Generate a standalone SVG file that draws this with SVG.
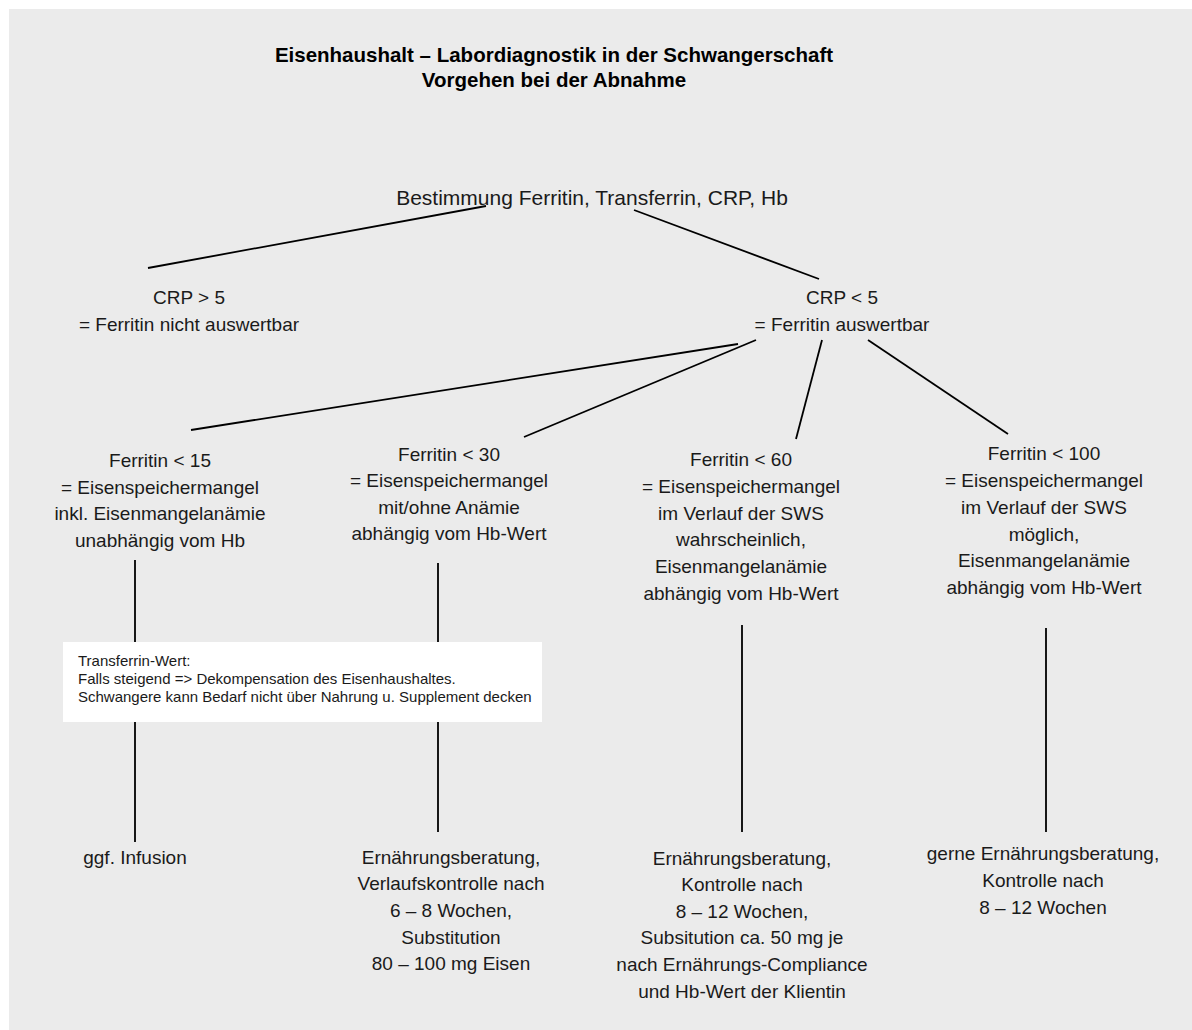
<svg xmlns="http://www.w3.org/2000/svg" width="1192" height="1030" viewBox="0 0 1192 1030">
  <style>
    .t { font-family: "Liberation Sans", Arial, sans-serif; font-size: 19px; fill: #1a1a1a; text-anchor: middle; }
    .title { font-family: "Liberation Sans", Arial, sans-serif; font-size: 20.5px; font-weight: bold; fill: #000; text-anchor: middle; }
    .note { font-family: "Liberation Sans", Arial, sans-serif; font-size: 15px; fill: #1a1a1a; }
    .c { stroke: #000; stroke-width: 1.8; fill: none; }
  </style>
  <rect x="9" y="9" width="1183" height="1021" fill="#ebebeb"/>

  <g id="title">
    <text class="title" x="554" y="62">Eisenhaushalt – Labordiagnostik in der Schwangerschaft</text>
    <text class="title" x="554" y="87">Vorgehen bei der Abnahme</text>
  </g>

  <g id="connectors">
    <line class="c" x1="486" y1="206" x2="148" y2="268"/>
    <line class="c" x1="634" y1="210" x2="819" y2="279"/>
    <line class="c" x1="738" y1="344" x2="191" y2="430"/>
    <line class="c" x1="756" y1="340" x2="524" y2="437"/>
    <line class="c" x1="822" y1="340" x2="796" y2="439"/>
    <line class="c" x1="868" y1="340" x2="1008" y2="434"/>
    <line class="c" x1="135" y1="560" x2="135" y2="842"/>
    <line class="c" x1="438" y1="563" x2="438" y2="832"/>
    <line class="c" x1="742" y1="625" x2="742" y2="832"/>
    <line class="c" x1="1046" y1="628" x2="1046" y2="832"/>
  </g>

  <g id="root">
    <text class="t" x="592" y="205" style="font-size:21px">Bestimmung Ferritin, Transferrin, CRP, Hb</text>
  </g>

  <g id="crp-high">
    <text class="t" x="189" y="304">CRP &gt; 5</text>
    <text class="t" x="189" y="331">= Ferritin nicht auswertbar</text>
  </g>

  <g id="crp-low">
    <text class="t" x="842" y="304">CRP &lt; 5</text>
    <text class="t" x="842" y="331">= Ferritin auswertbar</text>
  </g>

  <g id="ferritin-15">
    <text class="t" x="160" y="467">Ferritin &lt; 15</text>
    <text class="t" x="160" y="494">= Eisenspeichermangel</text>
    <text class="t" x="160" y="520">inkl. Eisenmangelanämie</text>
    <text class="t" x="160" y="547">unabhängig vom Hb</text>
  </g>

  <g id="ferritin-30">
    <text class="t" x="449" y="461">Ferritin &lt; 30</text>
    <text class="t" x="449" y="487">= Eisenspeichermangel</text>
    <text class="t" x="449" y="514">mit/ohne Anämie</text>
    <text class="t" x="449" y="540">abhängig vom Hb-Wert</text>
  </g>

  <g id="ferritin-60">
    <text class="t" x="741" y="466">Ferritin &lt; 60</text>
    <text class="t" x="741" y="493">= Eisenspeichermangel</text>
    <text class="t" x="741" y="520">im Verlauf der SWS</text>
    <text class="t" x="741" y="546">wahrscheinlich,</text>
    <text class="t" x="741" y="573">Eisenmangelanämie</text>
    <text class="t" x="741" y="600">abhängig vom Hb-Wert</text>
  </g>

  <g id="ferritin-100">
    <text class="t" x="1044" y="460">Ferritin &lt; 100</text>
    <text class="t" x="1044" y="487">= Eisenspeichermangel</text>
    <text class="t" x="1044" y="514">im Verlauf der SWS</text>
    <text class="t" x="1044" y="541">möglich,</text>
    <text class="t" x="1044" y="567">Eisenmangelanämie</text>
    <text class="t" x="1044" y="594">abhängig vom Hb-Wert</text>
  </g>

  <g id="transferrin-note">
    <rect x="63" y="642" width="479" height="80" fill="#ffffff"/>
    <text class="note" x="78" y="666">Transferrin-Wert:</text>
    <text class="note" x="78" y="684">Falls steigend =&gt; Dekompensation des Eisenhaushaltes.</text>
    <text class="note" x="78" y="702">Schwangere kann Bedarf nicht über Nahrung u. Supplement decken</text>
  </g>

  <g id="outcome-15">
    <text class="t" x="135" y="864">ggf. Infusion</text>
  </g>

  <g id="outcome-30">
    <text class="t" x="451" y="864">Ernährungsberatung,</text>
    <text class="t" x="451" y="890">Verlaufskontrolle nach</text>
    <text class="t" x="451" y="917">6 – 8 Wochen,</text>
    <text class="t" x="451" y="944">Substitution</text>
    <text class="t" x="451" y="970">80 – 100 mg Eisen</text>
  </g>

  <g id="outcome-60">
    <text class="t" x="742" y="865">Ernährungsberatung,</text>
    <text class="t" x="742" y="891">Kontrolle nach</text>
    <text class="t" x="742" y="918">8 – 12 Wochen,</text>
    <text class="t" x="742" y="944">Subsitution ca. 50 mg je</text>
    <text class="t" x="742" y="971">nach Ernährungs-Compliance</text>
    <text class="t" x="742" y="998">und Hb-Wert der Klientin</text>
  </g>

  <g id="outcome-100">
    <text class="t" x="1043" y="860">gerne Ernährungsberatung,</text>
    <text class="t" x="1043" y="887">Kontrolle nach</text>
    <text class="t" x="1043" y="914">8 – 12 Wochen</text>
  </g>
</svg>
